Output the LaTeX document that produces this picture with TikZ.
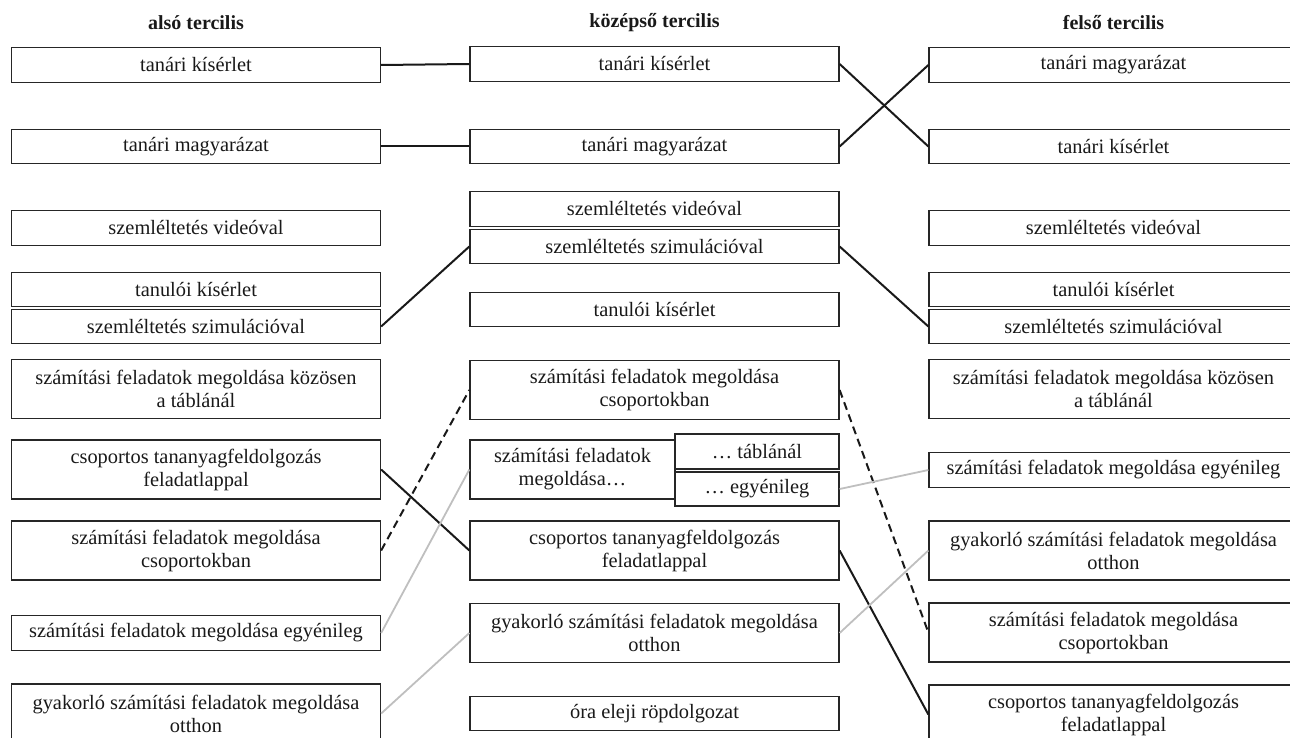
\documentclass[tikz,border=0pt]{standalone}
\usepackage{fontspec}
\setmainfont{Liberation Serif}
\begin{document}
\begin{tikzpicture}[x=0.5pt,y=-0.5pt,
  box/.style={draw=black!85,line width=0.65pt,inner sep=0pt,align=center,font=\fontsize{10.2}{11.5}\selectfont,text=black!90},
  one/.style={box,minimum width=184.5pt,minimum height=17.25pt},
  two/.style={box,minimum width=184.5pt,minimum height=29.5pt},
  head/.style={font=\fontsize{10}{12}\selectfont\bfseries,text=black!90},
  conn/.style={line width=1pt,black!90},
  dconn/.style={conn,dash pattern=on 4pt off 2.5pt},
  gconn/.style={line width=0.9pt,black!25}]
\useasboundingbox (0,0) rectangle (1290,738);
\clip (0,0) rectangle (1290,738);
% headers
\node[head] (hL) at (196,23) {alsó tercilis};
\node[head] (hM) at (654.5,23) {középső tercilis};
\node[head] (hR) at (1113.5,23) {felső tercilis};
% left column
\node[one] (Lk) at (196,65) {tanári kísérlet};
\node[one] (Lm) at (196,146.5) {tanári magyarázat};
\node[one] (Lv) at (196,228) {szemléltetés videóval};
\node[one] (Lt) at (196,289.5) {tanulói kísérlet};
\node[one] (Ls) at (196,326.5) {szemléltetés szimulációval};
\node[two] (Lkoz) at (196,389) {számítási feladatok megoldása közösen\\a táblánál};
\node[two] (Lcf) at (196,469.5) {csoportos tananyagfeldolgozás\\feladatlappal};
\node[two] (Lcs) at (196,550.5) {számítási feladatok megoldása\\csoportokban};
\node[one] (Le) at (196,633) {számítási feladatok megoldása egyénileg};
\node[two] (Lgy) at (196,713.5) {gyakorló számítási feladatok megoldása\\otthon};
% middle column
\node[one] (Mk) at (654.5,64) {tanári kísérlet};
\node[one] (Mm) at (654.5,146.5) {tanári magyarázat};
\node[one] (Mv) at (654.5,209) {szemléltetés videóval};
\node[one] (Ms) at (654.5,246.5) {szemléltetés szimulációval};
\node[one] (Mt) at (654.5,309.5) {tanulói kísérlet};
\node[two] (Mcs) at (654.5,390) {számítási feladatok megoldása\\csoportokban};
\node[box,minimum width=102.5pt,minimum height=29.5pt] (Mmeg) at (572.5,469.5) {számítási feladatok\\megoldása…};
\node[box,minimum width=82pt,minimum height=17.5pt] (Mtab) at (757,451.5) {… táblánál};
\node[box,minimum width=82pt,minimum height=17pt] (Megy) at (757,489) {… egyénileg};
\node[two] (Mcf) at (654.5,550.5) {csoportos tananyagfeldolgozás\\feladatlappal};
\node[two] (Mgy) at (654.5,633) {gyakorló számítási feladatok megoldása\\otthon};
\node[one] (Mora) at (654.5,713.5) {óra eleji röpdolgozat};
% right column
\node[one] (Rm) at (1113.5,65) {tanári magyarázat};
\node[one] (Rk) at (1113.5,146.5) {tanári kísérlet};
\node[one] (Rv) at (1113.5,228) {szemléltetés videóval};
\node[one] (Rt) at (1113.5,289.5) {tanulói kísérlet};
\node[one] (Rs) at (1113.5,326.5) {szemléltetés szimulációval};
\node[two] (Rkoz) at (1113.5,389) {számítási feladatok megoldása közösen\\a táblánál};
\node[one] (Re) at (1113.5,470) {számítási feladatok megoldása egyénileg};
\node[two] (Rgy) at (1113.5,550.5) {gyakorló számítási feladatok megoldása\\otthon};
\node[two] (Rcs) at (1113.5,632.5) {számítási feladatok megoldása\\csoportokban};
\node[two] (Rcf) at (1113.5,714.5) {csoportos tananyagfeldolgozás\\feladatlappal};
% connectors
\draw[conn] (Lk.east) -- (Mk.west);
\draw[conn] (Lm.east) -- (Mm.west);
\draw[conn] (Mk.east) -- (Rk.west);
\draw[conn] (Mm.east) -- (Rm.west);
\draw[conn] (Ls.east) -- (Ms.west);
\draw[conn] (Ms.east) -- (Rs.west);
\draw[conn] (Lcf.east) -- (Mcf.west);
\draw[conn] (Mcf.east) -- (Rcf.west);
\draw[dconn] (Lcs.east) -- (Mcs.west);
\draw[dconn] (Mcs.east) -- (Rcs.west);
\draw[gconn] (Le.east) -- (Mmeg.west);
\draw[gconn] (Megy.east) -- (Re.west);
\draw[gconn] (Lgy.east) -- (Mgy.west);
\draw[gconn] (Mgy.east) -- (Rgy.west);
\end{tikzpicture}
\end{document}
